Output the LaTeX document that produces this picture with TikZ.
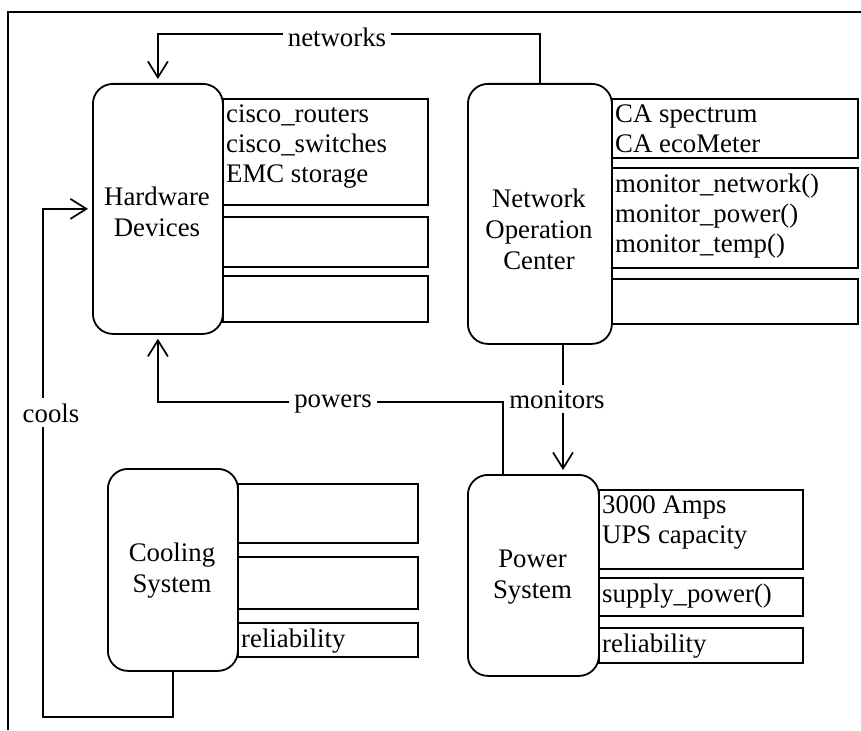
\documentclass[tikz,border=0pt]{standalone}
\usepackage{fontspec}
\setmainfont{Liberation Serif}
\usetikzlibrary{arrows.meta,calc}
\begin{document}
\begin{tikzpicture}[x=1pt,y=-1pt,
 every node/.style={font=\fontsize{26.8}{31}\selectfont},
 ln/.style={line width=1.8pt},
 mainbox/.style={draw, line width=1.8pt, rounded corners=20pt, anchor=north west, inner sep=0pt},
 attrbox/.style={draw, line width=1.8pt, anchor=north west, inner sep=0pt},
 maintext/.style={anchor=north, inner sep=0pt, align=center},
 attrtext/.style={anchor=north west, inner xsep=4pt, inner ysep=6.5pt, align=left, font=\fontsize{26.8}{30}\selectfont},
 arr/.style={line width=1.7pt, -{Straight Barb[length=16pt,width=20pt]}, shorten >=4pt},
 lab/.style={fill=white, inner xsep=5pt, inner ysep=5pt, anchor=base}]

\useasboundingbox (0,0) rectangle (861,730);
\draw[ln] (8,730) -- (8,12) -- (861,12);

% Hardware Devices
\node[attrbox, minimum width=205pt, minimum height=106pt] (hwa) at (222,98) {};
\node[attrbox, minimum width=205pt, minimum height=50pt] (hwb) at (222,216) {};
\node[attrbox, minimum width=205pt, minimum height=46pt] (hwc) at (222,275) {};
\node[mainbox, minimum width=130pt, minimum height=250pt] (hw) at (92,83) {};
\node[maintext] (hwt) at (157,187) {Hardware\\Devices};
\node[attrtext] (hwat) at (hwa.north west) {cisco\_routers\\cisco\_switches\\EMC storage};

% Network Operation Center
\node[attrbox, minimum width=246pt, minimum height=59pt] (noca) at (611,98) {};
\node[attrbox, minimum width=246pt, minimum height=100pt] (nocb) at (611,167) {};
\node[attrbox, minimum width=246pt, minimum height=45pt] (nocc) at (611,278) {};
\node[mainbox, minimum width=144pt, minimum height=260pt] (noc) at (467,83) {};
\node[maintext] (noct) at (539,189) {Network\\Operation\\Center};
\node[attrtext] (nocat) at (noca.north west) {CA spectrum\\CA ecoMeter};
\node[attrtext] (nocbt) at (nocb.north west) {monitor\_network()\\monitor\_power()\\monitor\_temp()};

% Power System
\node[attrbox, minimum width=204pt, minimum height=79pt] (pwa) at (598,489) {};
\node[attrbox, minimum width=204pt, minimum height=38pt] (pwb) at (598,577) {};
\node[attrbox, minimum width=204pt, minimum height=35pt] (pwc) at (598,627) {};
\node[mainbox, minimum width=131pt, minimum height=201pt] (pw) at (467,474) {};
\node[maintext] (pwt) at (532.5,550) {Power\\System};
\node[attrtext] (pwat) at (pwa.north west) {3000 Amps\\UPS capacity};
\node[attrtext] (pwbt) at (pwb.north west) {supply\_power()};
\node[attrtext] (pwct) at (pwc.north west) {reliability};

% Cooling System
\node[attrbox, minimum width=180pt, minimum height=59pt] (cola) at (237,483) {};
\node[attrbox, minimum width=180pt, minimum height=52pt] (colb) at (237,556) {};
\node[attrbox, minimum width=180pt, minimum height=34pt] (colc) at (237,622) {};
\node[mainbox, minimum width=130pt, minimum height=202pt] (cool) at (107,468) {};
\node[maintext] (coolt) at (172,543) {Cooling\\System};
\node[attrtext] (colct) at (colc.north west) {reliability};

% connectors
\coordinate (netY) at (0,34);
\coordinate (monX) at (563,0);
\coordinate (powXY) at (503,402);
\coordinate (coolXY) at (43,717);
\draw[arr] (noc.north) |- (hw.north |- netY) -- (hw.north);
\draw[arr] (noc.south -| monX) -- (pw.north -| monX);
\draw[arr] (pw.north -| powXY) |- (hw.south |- powXY) -- (hw.south);
\draw[arr] (cool.south) |- (coolXY) |- (hw.west);

% labels
\node[lab] (lnet) at (337,47) {networks};
\node[lab] (lpow) at (333,407) {powers};
\node[lab] (lmon) at (557,408) {monitors};
\node[lab] (lcool) at (51,422) {cools};
\end{tikzpicture}
\end{document}
